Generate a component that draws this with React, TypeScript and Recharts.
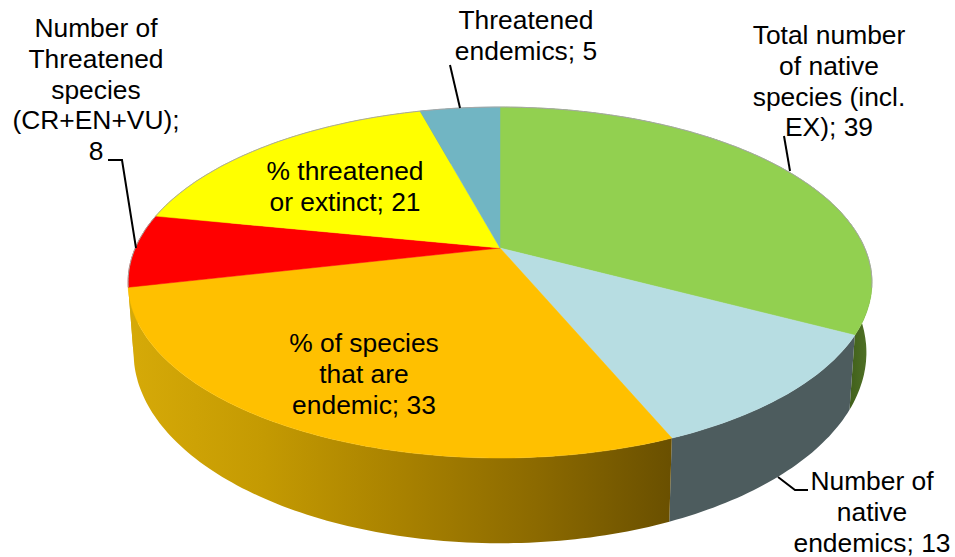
import React from 'react';
import { PieChart, Pie, Cell } from 'recharts';

// Label text per slice: "|" breaks a row, {v} takes the slice value
const categories = [
  'Total number|of native|species (incl.|EX); {v}',
  'Number of|native|endemics; {v}',
  '% of species|that are|endemic; {v}',
  'Number of|Threatened|species|(CR+EN+VU);|{v}',
  '% threatened|or extinct; {v}',
  'Threatened|endemics; {v}',
];
const values = [39, 13, 33, 8, 21, 5];

const topColors = ['#92D050', '#B7DDE2', '#FFC000', '#FF0000', '#FFFF00', '#71B5C3'];
const wallColors = ['url(#wallGreen)', '#4D5C5E', 'url(#wallOrange)', 'url(#wallOrange)', '#A0A000', '#46707A'];

const chartData = values.map((value, i) => ({ name: categories[i], value }));

// Where each label sits, and its leader line if it has one
const labelLayout = [
  { x: 829, y: 44, leader: '784,136 790,171' },
  { x: 872, y: 490, leader: '778,477 795,490 808,490' },
  { x: 364, y: 352, leader: '' },
  { x: 96, y: 37, leader: '108,160 122,160 136,248' },
  { x: 345, y: 180, leader: '' },
  { x: 526, y: 29, leader: '450,65 460,108' },
];

const FONT_SIZE = 26.4;
const ROW_HEIGHT = 30.8;

// Perspective projection of the pie's circular disc onto the page
const TILT = 0.1966;
const RX = 364.7;
const RY = 168.7;
const WALL_SCALE_X = 0.985;
const WALL_SCALE_Y = 1.087;
const WALL_DROP = 67;

const project = (cx: number, cy: number, pieAngle: number, wall = false) => {
  const t = ((90 - pieAngle) * Math.PI) / 180;
  const u = Math.sin(t);
  const v = -Math.cos(t);
  const d = 1 - TILT * v;
  const x = (RX * u) / d;
  const y = (RY * v) / d;
  return wall
    ? [cx + WALL_SCALE_X * x, cy + WALL_DROP + WALL_SCALE_Y * y]
    : [cx + x, cy + y];
};

const arcPoints = (cx: number, cy: number, from: number, to: number, wall = false) => {
  const steps = Math.max(2, Math.ceil(Math.abs(to - from)));
  const pts: number[][] = [];
  for (let i = 0; i <= steps; i++) {
    pts.push(project(cx, cy, from + ((to - from) * i) / steps, wall));
  }
  return pts;
};

const toPath = (pts: number[][]) =>
  pts.map((p, i) => `${i ? 'L' : 'M'}${p[0].toFixed(1)},${p[1].toFixed(1)}`).join(' ');

const TopSlice = (props: any) => {
  const { cx, cy, startAngle, endAngle, fill } = props;
  const arc = arcPoints(cx, cy, startAngle, endAngle);
  // thin grey rim, only along the far side of the disc
  const rim = arc.filter((p) => p[1] < cy + 40);
  return (
    <g>
      <path d={`M${cx},${cy} ${toPath(arc).replace('M', 'L')} Z`} fill={fill} stroke={fill} strokeWidth={0.5} />
      {rim.length > 1 && <path d={toPath(rim)} fill="none" stroke="#A8A8A8" strokeWidth={1} />}
    </g>
  );
};

const WallSlice = (props: any) => {
  const { cx, cy, startAngle, endAngle, fill } = props;
  const upper = arcPoints(cx, cy, startAngle, endAngle);
  const lower = arcPoints(cx, cy, endAngle, startAngle, true);
  return <path d={`${toPath(upper)} ${toPath(lower).replace('M', 'L')} Z`} fill={fill} />;
};

const SliceLabel = (props: any) => {
  const { index, name, value } = props;
  const place = labelLayout[index];
  const rows = String(name).replace('{v}', String(value)).split('|');
  return (
    <g>
      {place.leader && <polyline points={place.leader} fill="none" stroke="#000" strokeWidth={2} />}
      <text x={place.x} y={place.y} textAnchor="middle" fontFamily="Liberation Sans, Arial, sans-serif" fontSize={FONT_SIZE} fill="#000">
        {rows.map((row, i) => (
          <tspan key={i} x={place.x} y={place.y + i * ROW_HEIGHT}>{row}</tspan>
        ))}
      </text>
    </g>
  );
};

const App = () => (
  <div style={{ position: 'absolute', left: 0, top: 0, width: 955, height: 557, background: '#fff' }}>
    <PieChart width={955} height={557} margin={{ top: 0, right: 0, bottom: 0, left: 0 }}>
      <defs>
        <linearGradient id="wallOrange" gradientUnits="userSpaceOnUse" x1="128" y1="0" x2="670" y2="0">
          <stop offset="0" stopColor="#D6AA08" />
          <stop offset="0.25" stopColor="#C49A02" />
          <stop offset="0.5" stopColor="#A98200" />
          <stop offset="0.75" stopColor="#8C6A00" />
          <stop offset="1" stopColor="#6A5000" />
        </linearGradient>
        <linearGradient id="wallGreen" gradientUnits="userSpaceOnUse" x1="845" y1="0" x2="875" y2="0">
          <stop offset="0" stopColor="#3D5B18" />
          <stop offset="1" stopColor="#55782A" />
        </linearGradient>
      </defs>
      <Pie
        data={chartData}
        dataKey="value"
        nameKey="name"
        cx={500}
        cy={248}
        outerRadius={100}
        startAngle={90}
        endAngle={-270}
        shape={WallSlice}
        stroke="none"
        isAnimationActive={false}
      >
        {chartData.map((_, i) => (
          <Cell key={i} fill={wallColors[i]} />
        ))}
      </Pie>
      <Pie
        data={chartData}
        dataKey="value"
        nameKey="name"
        cx={500}
        cy={248}
        outerRadius={100}
        startAngle={90}
        endAngle={-270}
        shape={TopSlice}
        stroke="none"
        label={SliceLabel}
        labelLine={false}
        isAnimationActive={false}
      >
        {chartData.map((_, i) => (
          <Cell key={i} fill={topColors[i]} />
        ))}
      </Pie>
    </PieChart>
  </div>
);

export default App;
